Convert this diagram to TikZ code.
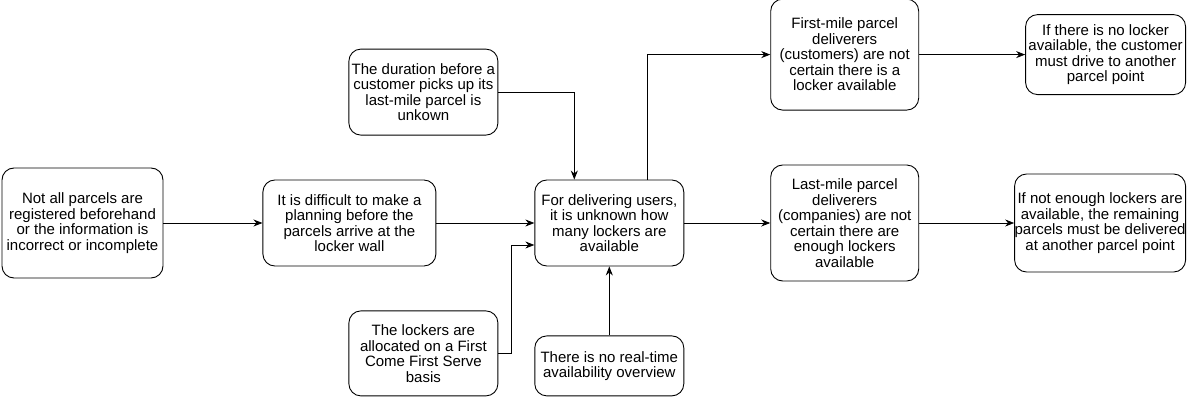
\documentclass[tikz,border=0pt]{standalone}
\usepackage{fontspec}
\setmainfont{Liberation Sans}
\usetikzlibrary{arrows.meta, positioning}

\begin{document}
\begin{tikzpicture} [x=1pt, y=1pt,
		box/.style 2 args={draw, line width=0.9pt, rounded corners=12pt, align=center,
			inner sep=1pt, minimum width=#1, minimum height=#2,
			font=\fontsize{15}{15.5}\selectfont},
		arr/.style={-{Stealth[length=9pt, width=7pt]}, line width=0.8pt}]
		\useasboundingbox (0,0) rectangle (1187,399);
		\node (notreg) [box={161pt}{110pt}] at (82.5,176) {Not all parcels are\\registered beforehand\\or the information is\\incorrect or incomplete};
		\node (plan) [box={173pt}{86pt}, right = 99pt of notreg] {It is difficult to make a\\planning before the\\parcels arrive at the\\locker wall};
		\node (unknown) [box={149pt}{86pt}, right = 98pt of plan] {For delivering users,\\it is unknown how\\many lockers are\\available};
		\node (lastmile) [box={148pt}{116pt}, right = 86pt of unknown] {Last-mile parcel\\deliverers\\(companies) are not\\certain there are\\enough lockers\\available};
		\node (notenough) [box={171pt}{98pt}, inner xsep=0pt, right = 95pt of lastmile] {If not enough lockers are\\available, the remaining\\parcels must be delivered\\at another parcel point};
		\node (firstmile) [box={148pt}{111pt}, above = 54pt of lastmile] {First-mile parcel\\deliverers\\(customers) are not\\certain there is a\\locker available};
		\node (nolocker) [box={160pt}{80pt}, right = 106pt of firstmile] {If there is no locker\\available, the customer\\must drive to another\\parcel point};
		\node (duration) [box={149pt}{86pt}, above left = 44pt and 36pt of unknown.north west] {The duration before a\\customer picks up its\\last-mile parcel is\\unkown};
		\node (fcfs) [box={149pt}{85pt}, below left = 44pt and 36pt of unknown.south west] {The lockers are\\allocated on a First\\Come First Serve\\basis};
		\node (realtime) [box={149pt}{60pt}, below = 69pt of unknown] {There is no real-time\\availability overview};

		\draw [arr] (notreg) -- (plan);
		\draw [arr] (plan) -- (unknown);
		\draw [arr] (duration.east) -| ([xshift=-35pt]unknown.north);
		\draw [arr] (fcfs.east) -- ++(13pt,0) |- ([yshift=-22pt]unknown.west);
		\draw [arr] (realtime) -- (unknown);
		\draw [arr] ([xshift=38pt]unknown.north) |- (firstmile.west);
		\draw [arr] (unknown) -- (lastmile);
		\draw [arr] (firstmile) -- (nolocker);
		\draw [arr] (lastmile) -- (notenough);
	\end{tikzpicture}
\end{document}
